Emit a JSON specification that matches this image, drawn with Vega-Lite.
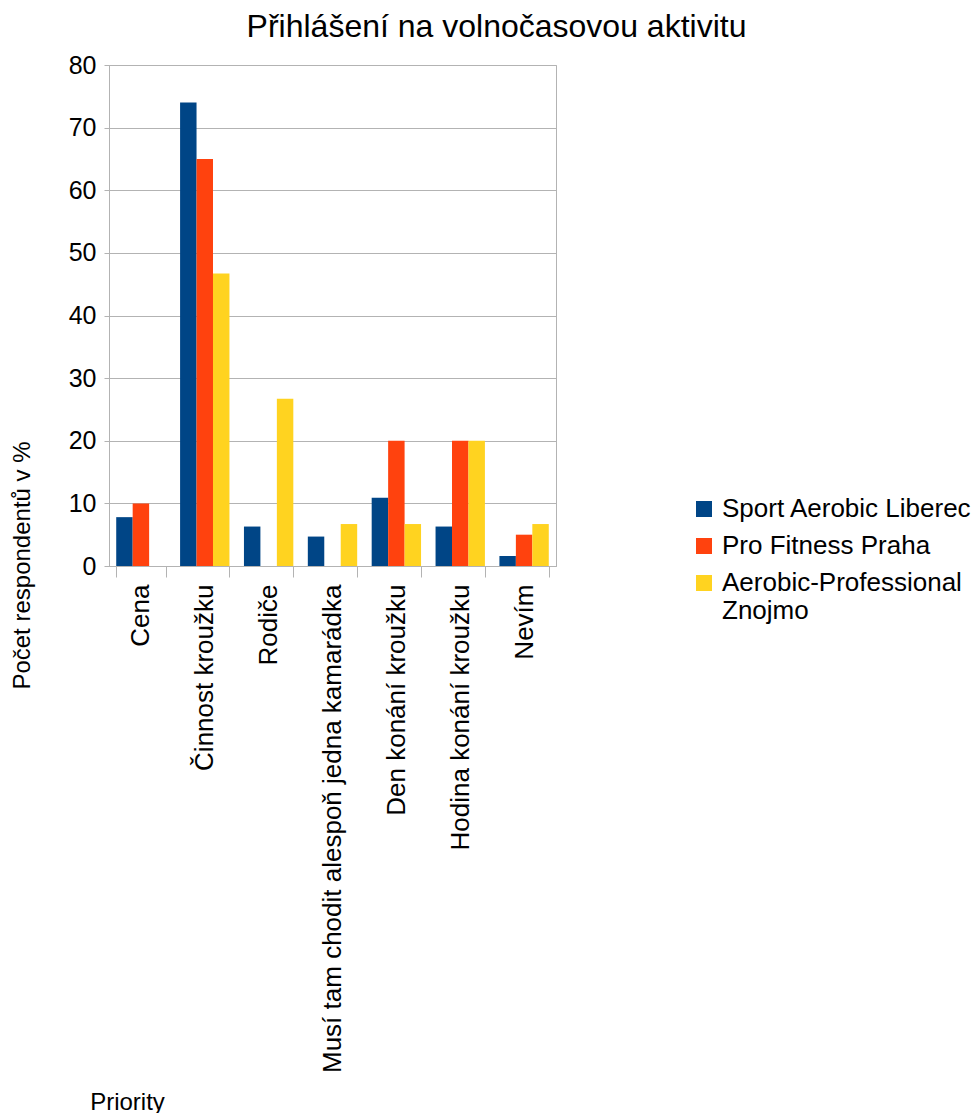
{
  "$schema": "https://vega.github.io/schema/vega-lite/v6.json",
  "width": 447,
  "height": 501,
  "autosize": "none",
  "padding": {"left": 109, "top": 65, "right": 417, "bottom": 547},
  "background": "white",
  "config": {
    "font": "Liberation Sans",
    "view": {"stroke": "#b3b3b3", "strokeWidth": 1}
  },
  "title": {
    "text": "Přihlášení na volnočasovou aktivitu",
    "fontSize": 32,
    "fontWeight": "normal",
    "color": "#000000",
    "anchor": "middle",
    "dx": 164,
    "offset": 9
  },
  "data": {
    "values": [
      {"priorita": "Cena", "klub": "Sport Aerobic Liberec", "hodnota": 7.8},
      {"priorita": "Cena", "klub": "Pro Fitness Praha", "hodnota": 10},
      {"priorita": "Cena", "klub": "Aerobic-Professional Znojmo", "hodnota": 0},
      {"priorita": "Činnost kroužku", "klub": "Sport Aerobic Liberec", "hodnota": 74},
      {"priorita": "Činnost kroužku", "klub": "Pro Fitness Praha", "hodnota": 65},
      {"priorita": "Činnost kroužku", "klub": "Aerobic-Professional Znojmo", "hodnota": 46.7},
      {"priorita": "Rodiče", "klub": "Sport Aerobic Liberec", "hodnota": 6.3},
      {"priorita": "Rodiče", "klub": "Pro Fitness Praha", "hodnota": 0},
      {"priorita": "Rodiče", "klub": "Aerobic-Professional Znojmo", "hodnota": 26.7},
      {"priorita": "Musí tam chodit alespoň jedna kamarádka", "klub": "Sport Aerobic Liberec", "hodnota": 4.7},
      {"priorita": "Musí tam chodit alespoň jedna kamarádka", "klub": "Pro Fitness Praha", "hodnota": 0},
      {"priorita": "Musí tam chodit alespoň jedna kamarádka", "klub": "Aerobic-Professional Znojmo", "hodnota": 6.7},
      {"priorita": "Den konání kroužku", "klub": "Sport Aerobic Liberec", "hodnota": 10.9},
      {"priorita": "Den konání kroužku", "klub": "Pro Fitness Praha", "hodnota": 20},
      {"priorita": "Den konání kroužku", "klub": "Aerobic-Professional Znojmo", "hodnota": 6.7},
      {"priorita": "Hodina konání kroužku", "klub": "Sport Aerobic Liberec", "hodnota": 6.3},
      {"priorita": "Hodina konání kroužku", "klub": "Pro Fitness Praha", "hodnota": 20},
      {"priorita": "Hodina konání kroužku", "klub": "Aerobic-Professional Znojmo", "hodnota": 20},
      {"priorita": "Nevím", "klub": "Sport Aerobic Liberec", "hodnota": 1.6},
      {"priorita": "Nevím", "klub": "Pro Fitness Praha", "hodnota": 5},
      {"priorita": "Nevím", "klub": "Aerobic-Professional Znojmo", "hodnota": 6.7}
    ]
  },
  "mark": {"type": "bar"},
  "encoding": {
    "x": {
      "field": "priorita",
      "type": "nominal",
      "sort": null,
      "scale": {"paddingInner": 0.227, "paddingOuter": 0.113},
      "axis": {
        "title": "Priority",
        "titleFontSize": 24,
        "titleFontWeight": "normal",
        "titleColor": "#000000",
        "titleX": 18,
        "titleY": 536,
        "titleAlign": "center",
        "titleBaseline": "middle",
        "labelAngle": -90,
        "labelFontSize": 26,
        "labelColor": "#000000",
        "labelPadding": 7,
        "labelLimit": 0,
        "labelAlign": "right",
        "labelBaseline": "middle",
        "tickBand": "extent",
        "tickSize": 11,
        "tickColor": "#b3b3b3",
        "domainColor": "#b3b3b3",
        "grid": false
      }
    },
    "xOffset": {
      "field": "klub",
      "type": "nominal",
      "sort": ["Sport Aerobic Liberec", "Pro Fitness Praha", "Aerobic-Professional Znojmo"],
      "scale": {"paddingInner": 0, "paddingOuter": 0}
    },
    "y": {
      "field": "hodnota",
      "type": "quantitative",
      "scale": {"domain": [0, 80], "nice": false},
      "axis": {
        "values": [0, 10, 20, 30, 40, 50, 60, 70, 80],
        "title": "Počet respondentů v %",
        "titleFontSize": 24,
        "titleFontWeight": "normal",
        "titleColor": "#000000",
        "titleX": -87,
        "titleY": 500,
        "titleAlign": "center",
        "titleBaseline": "middle",
        "titleAngle": -90,
        "labelFontSize": 25,
        "labelColor": "#000000",
        "labelPadding": 8,
        "tickSize": 5,
        "tickColor": "#b3b3b3",
        "domainColor": "#b3b3b3",
        "gridColor": "#b3b3b3",
        "gridOpacity": 1
      }
    },
    "color": {
      "field": "klub",
      "type": "nominal",
      "sort": ["Sport Aerobic Liberec", "Pro Fitness Praha", "Aerobic-Professional Znojmo"],
      "scale": {
        "domain": ["Sport Aerobic Liberec", "Pro Fitness Praha", "Aerobic-Professional Znojmo"],
        "range": ["#004586", "#ff420e", "#ffd320"]
      },
      "legend": {
        "title": null,
        "orient": "none",
        "legendX": 582,
        "legendY": 431,
        "symbolType": "square",
        "symbolSize": 256,
        "symbolStrokeWidth": 0,
        "labelFontSize": 26,
        "labelColor": "#000000",
        "labelLimit": 0,
        "labelOffset": 5,
        "rowPadding": 11,
        "labelExpr": "datum.label == 'Aerobic-Professional Znojmo' ? ['Aerobic-Professional', 'Znojmo'] : datum.label"
      }
    }
  }
}
